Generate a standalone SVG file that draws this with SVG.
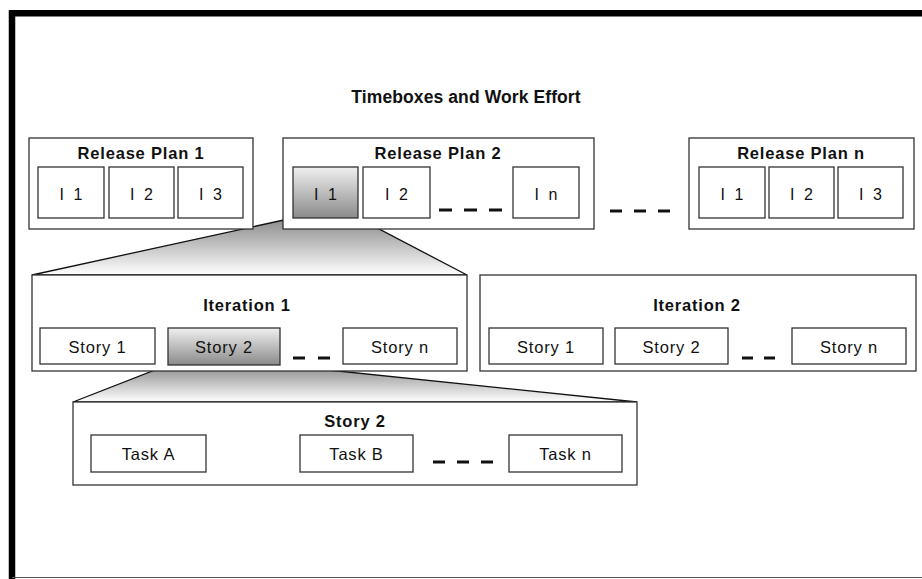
<svg xmlns="http://www.w3.org/2000/svg" width="922" height="579" viewBox="0 0 922 579">
<defs>
<linearGradient id="boxShade" x1="0" y1="0" x2="0" y2="1">
<stop offset="0" stop-color="#f0f0f0"/>
<stop offset="1" stop-color="#8a8a8a"/>
</linearGradient>
<linearGradient id="zoomShade" x1="0" y1="0" x2="0" y2="1">
<stop offset="0" stop-color="#8a8a8a"/>
<stop offset="1" stop-color="#ffffff"/>
</linearGradient>
<style>
.frame{fill:none;stroke:#000;stroke-width:6.5}
.box{fill:#fff;stroke:#333;stroke-width:1.3}
.shaded{fill:url(#boxShade);stroke:#333;stroke-width:1.3}
.zoom{fill:url(#zoomShade);stroke:#111;stroke-width:1.3}
.dash{stroke:#111;stroke-width:3;fill:none}
.t{font-family:"Liberation Sans",Arial,sans-serif;fill:#111;text-anchor:middle}
.title{font-size:17.5px;font-weight:bold;letter-spacing:0.1px}
.hd{font-size:16.5px;font-weight:bold;letter-spacing:0.8px}
.lb{font-size:16.5px;letter-spacing:0.8px}
.il{font-size:16px;word-spacing:5px}
</style>
</defs>
<rect x="0" y="0" width="922" height="579" fill="#fff"/>
<path d="M12 579 V13.2 H922" class="frame"/>
<line x1="12" y1="577.5" x2="922" y2="577.5" stroke="#555" stroke-width="1.2"/>
<text class="t title" x="466" y="102.5">Timeboxes and Work Effort</text>

<g id="connectors">
<polygon class="zoom" points="293,218 358,218 467,275 32,275"/>
<polygon class="zoom" points="168,365 280,365 637,402 73,402"/>
</g>

<g id="release-plan-1">
<rect class="box" x="29" y="138" width="224" height="91"/>
<text class="t hd" x="141" y="158.5">Release Plan 1</text>
<rect class="box" x="38" y="167" width="66" height="51"/>
<text class="t il" x="71" y="199.5">I 1</text>
<rect class="box" x="109" y="167" width="65" height="51"/>
<text class="t il" x="141.5" y="199.5">I 2</text>
<rect class="box" x="178" y="167" width="65" height="51"/>
<text class="t il" x="210.5" y="199.5">I 3</text>
</g>

<g id="release-plan-2">
<rect class="box" x="283" y="138" width="311" height="91"/>
<text class="t hd" x="438" y="158.5">Release Plan 2</text>
<rect class="shaded" x="293" y="167" width="65" height="51"/>
<text class="t il" x="325.5" y="199.5">I 1</text>
<rect class="box" x="363" y="167" width="67" height="51"/>
<text class="t il" x="396.5" y="199.5">I 2</text>
<line class="dash" x1="439" y1="210" x2="503" y2="210" stroke-dasharray="13 12"/>
<rect class="box" x="513" y="167" width="66" height="51"/>
<text class="t il" x="546" y="199.5">I n</text>
</g>

<line class="dash" x1="610" y1="211" x2="670" y2="211" stroke-dasharray="12 12"/>

<g id="release-plan-n">
<rect class="box" x="689" y="138" width="225" height="91"/>
<text class="t hd" x="801" y="158.5">Release Plan n</text>
<rect class="box" x="699" y="167" width="66" height="51"/>
<text class="t il" x="732" y="199.5">I 1</text>
<rect class="box" x="769" y="167" width="65" height="51"/>
<text class="t il" x="801.5" y="199.5">I 2</text>
<rect class="box" x="838" y="167" width="65" height="51"/>
<text class="t il" x="870.5" y="199.5">I 3</text>
</g>

<g id="iteration-1">
<rect class="box" x="32" y="275" width="435" height="96"/>
<text class="t hd" x="247" y="311">Iteration 1</text>
<rect class="box" x="40" y="328" width="115" height="36"/>
<text class="t lb" x="97.5" y="353">Story 1</text>
<rect class="shaded" x="168" y="328" width="112" height="37"/>
<text class="t lb" x="224" y="353">Story 2</text>
<line class="dash" x1="293" y1="358" x2="330" y2="358" stroke-dasharray="12 13"/>
<rect class="box" x="343" y="328" width="114" height="36"/>
<text class="t lb" x="400" y="353">Story n</text>
</g>

<g id="iteration-2">
<rect class="box" x="480" y="275" width="436" height="96"/>
<text class="t hd" x="697" y="311">Iteration 2</text>
<rect class="box" x="489" y="328" width="114" height="36"/>
<text class="t lb" x="546" y="353">Story 1</text>
<rect class="box" x="615" y="328" width="113" height="36"/>
<text class="t lb" x="671.5" y="353">Story 2</text>
<line class="dash" x1="742" y1="358" x2="775" y2="358" stroke-dasharray="11 11"/>
<rect class="box" x="792" y="328" width="114" height="36"/>
<text class="t lb" x="849" y="353">Story n</text>
</g>

<g id="story-2">
<rect class="box" x="73" y="402" width="564" height="83"/>
<text class="t hd" x="355" y="427">Story 2</text>
<rect class="box" x="91" y="435" width="115" height="37"/>
<text class="t lb" x="148.5" y="460">Task A</text>
<rect class="box" x="300" y="435" width="113" height="37"/>
<text class="t lb" x="356.5" y="460">Task B</text>
<line class="dash" x1="433" y1="462" x2="493" y2="462" stroke-dasharray="12 12"/>
<rect class="box" x="509" y="435" width="113" height="37"/>
<text class="t lb" x="565.5" y="460">Task n</text>
</g>
</svg>
